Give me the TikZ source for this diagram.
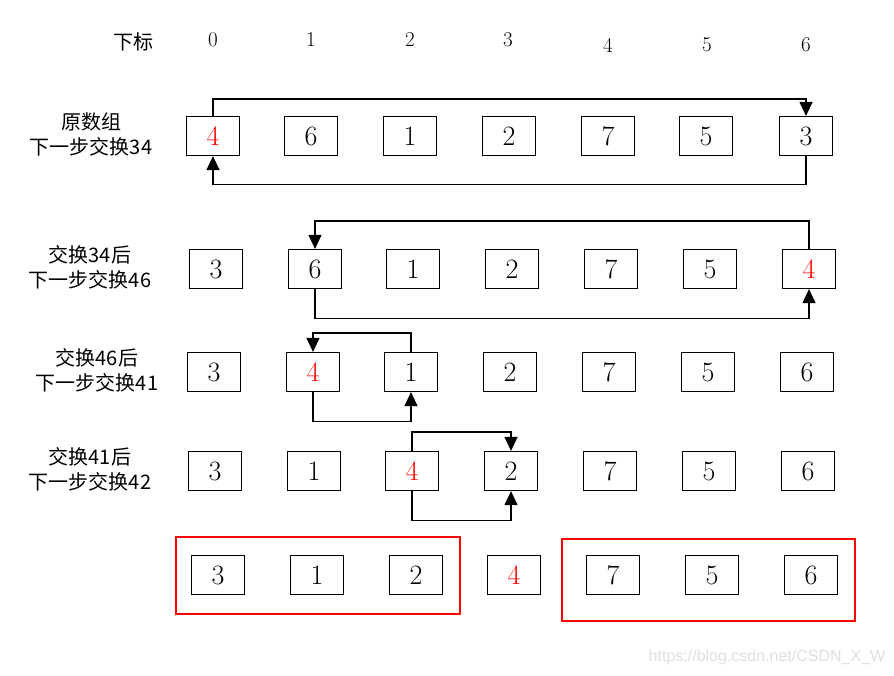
\documentclass[tikz,border=0pt]{standalone}
\usepackage{fontspec}
\newfontfamily\cjk{Noto Sans CJK SC}
\setsansfont{Liberation Sans}
\usetikzlibrary{arrows.meta,positioning}

\begin{document}
\begin{tikzpicture}[x=1pt, y=-1pt,
  cell/.style={draw, line width=1.2pt, minimum width=53pt, minimum height=39pt,
               inner sep=0pt, font=\fontsize{28}{28}\selectfont},
  idx/.style={font=\fontsize{21}{21}\selectfont},
  lbl/.style={align=center, font=\cjk\fontsize{20}{25.5}\selectfont},
  arr/.style={-{Triangle[length=14pt,width=13pt]}, line width=1.2pt},
  part/.style={draw=red, line width=2pt}
]
  \useasboundingbox (0,0) rectangle (894,675);

  % Index row
  \node[lbl] (head) at (133,42) {下标};
  \node[idx] (i0) at (213,39.5) {0};
  \node[idx] (i1) at (311,39.5) {1};
  \node[idx] (i2) at (410,39.5) {2};
  \node[idx] (i3) at (508,40) {3};
  \node[idx] (i4) at (608,45) {4};
  \node[idx] (i5) at (707,44.5) {5};
  \node[idx] (i6) at (806,44.5) {6};

  % Original array
  \node[lbl] (l1) at (91,134.5) {原数组\\下一步交换34};
  \node[cell, text=red] (r1a) at (213,136) {4};
  \node[cell] (r1b) at (311,136) {6};
  \node[cell] (r1c) at (410,136) {1};
  \node[cell] (r1d) at (509,136) {2};
  \node[cell] (r1e) at (608,136) {7};
  \node[cell] (r1f) at (706,136) {5};
  \node[cell] (r1g) at (806,136) {3};

  \draw[arr] (r1a.north) -- ++(0,-17) -| (r1g.north);
  \draw[arr] (r1g.south) -- ++(0,28) -| (r1a.south);

  % After swap 3/4
  \node[lbl] (l2) at (90,267.5) {交换34后\\下一步交换46};
  \node[cell] (r2a) at (216,269) {3};
  \node[cell] (r2b) at (315,269) {6};
  \node[cell] (r2c) at (413,269) {1};
  \node[cell] (r2d) at (512,269) {2};
  \node[cell] (r2e) at (611,269) {7};
  \node[cell] (r2f) at (710,269) {5};
  \node[cell, text=red] (r2g) at (809,269) {4};

  \draw[arr] (r2g.north) -- ++(0,-28) -| (r2b.north);
  \draw[arr] (r2b.south) -- ++(0,29) -| (r2g.south);

  % After swap 4/6
  \node[lbl] (l3) at (97,370.5) {交换46后\\下一步交换41};
  \node[cell] (r3a) at (214,372) {3};
  \node[cell, text=red] (r3b) at (313,372) {4};
  \node[cell] (r3c) at (411,372) {1};
  \node[cell] (r3d) at (510,372) {2};
  \node[cell] (r3e) at (609,372) {7};
  \node[cell] (r3f) at (708,372) {5};
  \node[cell] (r3g) at (807,372) {6};

  \draw[arr] (r3c.north) -- ++(0,-19) -| (r3b.north);
  \draw[arr] (r3b.south) -- ++(0,29) -| (r3c.south);

  % After swap 4/1
  \node[lbl] (l4) at (90,469.5) {交换41后\\下一步交换42};
  \node[cell] (r4a) at (215,471) {3};
  \node[cell] (r4b) at (314,471) {1};
  \node[cell, text=red] (r4c) at (412,471) {4};
  \node[cell] (r4d) at (511,471) {2};
  \node[cell] (r4e) at (610,471) {7};
  \node[cell] (r4f) at (709,471) {5};
  \node[cell] (r4g) at (808,471) {6};

  \draw[arr] (r4c.north) -- ++(0,-19) -| (r4d.north);
  \draw[arr] (r4c.south) -- ++(0,29) -| (r4d.south);

  % Result: two parts around the pivot
  \node[cell] (r5a) at (218,575) {3};
  \node[cell] (r5b) at (317,575) {1};
  \node[cell] (r5c) at (416,575) {2};
  \node[cell, text=red] (r5d) at (514,575) {4};
  \node[cell] (r5e) at (613,575) {7};
  \node[cell] (r5f) at (712,575) {5};
  \node[cell] (r5g) at (811,575) {6};

  \draw[part] (176,537) rectangle (460,614);
  \draw[part] (562,539) rectangle (855,621);

  \node[font=\sffamily\fontsize{16}{16}\selectfont, text=gray!25] (mark) at (767,657) {https://blog.csdn.net/CSDN\_X\_W};
\end{tikzpicture}
\end{document}
